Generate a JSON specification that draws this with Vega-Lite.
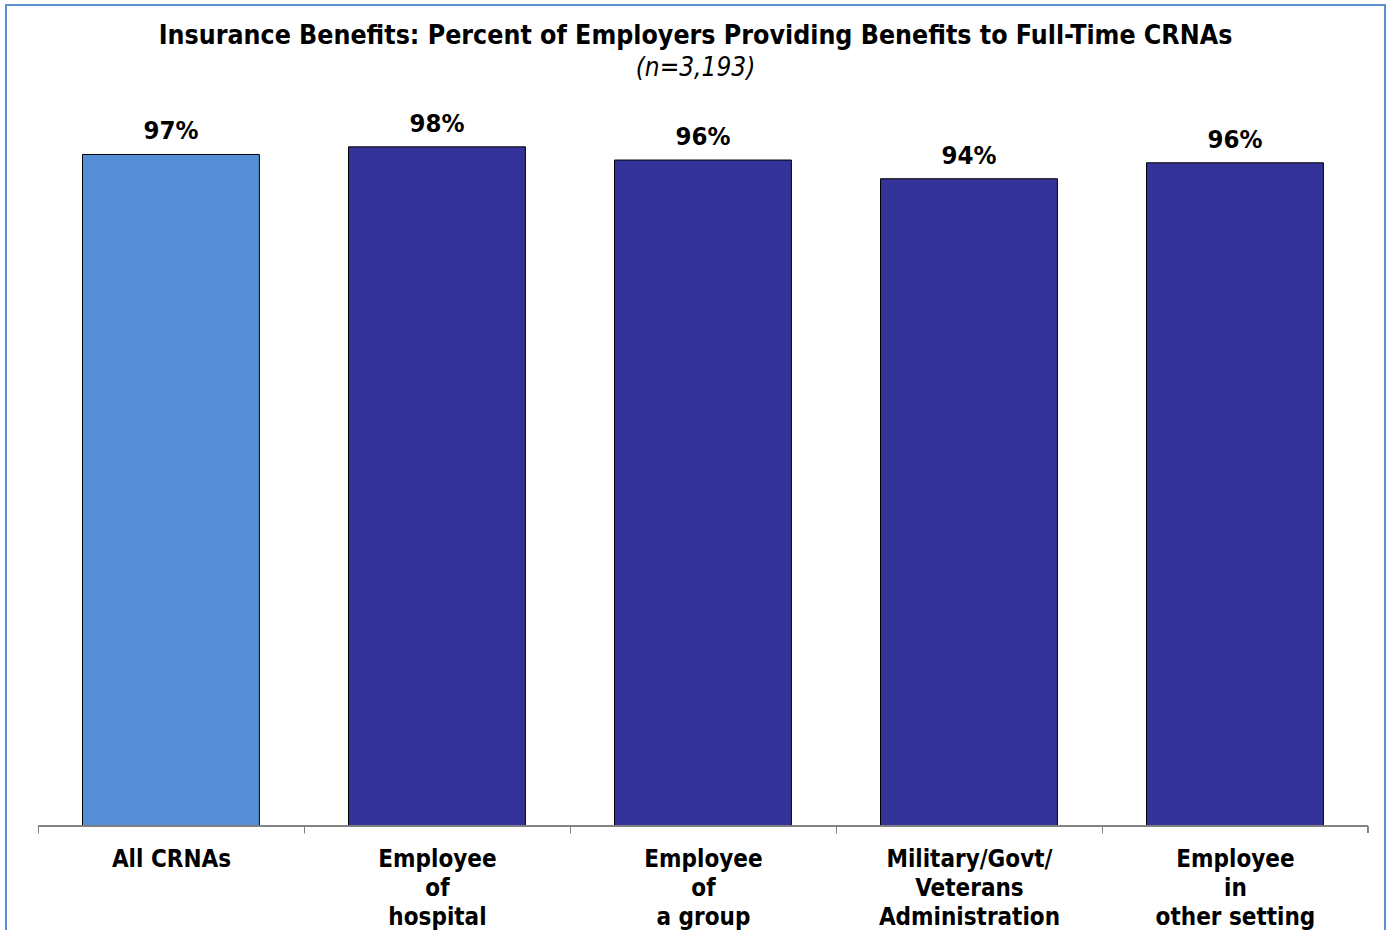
{
  "$schema": "https://vega.github.io/schema/vega-lite/v6.json",
  "width": 1379,
  "height": 935,
  "autosize": {"type": "none"},
  "padding": {"left": 6, "top": 5, "right": 3, "bottom": 0},
  "background": "white",
  "config": {
    "view": {"stroke": "#5B8FD0", "strokeWidth": 2},
    "font": "DejaVu Sans Condensed"
  },
  "title": {
    "text": "Insurance Benefits: Percent of Employers Providing Benefits to Full-Time CRNAs",
    "subtitle": "(n=3,193)",
    "anchor": "middle",
    "frame": "group",
    "baseline": "top",
    "offset": -76,
    "font": "DejaVu Sans Condensed",
    "fontSize": 26.5,
    "fontWeight": "bold",
    "color": "black",
    "subtitleFont": "DejaVu Sans Condensed",
    "subtitleFontSize": 26,
    "subtitleFontStyle": "italic",
    "subtitleColor": "black",
    "subtitlePadding": 6
  },
  "data": {
    "values": [
      {"cat": "All CRNAs", "value": 96.9, "label": "97%", "group": "all"},
      {"cat": "Employee|of|hospital", "value": 98.0, "label": "98%", "group": "sub"},
      {"cat": "Employee|of|a group", "value": 96.1, "label": "96%", "group": "sub"},
      {"cat": "Military/Govt/|Veterans|Administration", "value": 93.4, "label": "94%", "group": "sub"},
      {"cat": "Employee|in|other setting", "value": 95.7, "label": "96%", "group": "sub"}
    ]
  },
  "encoding": {
    "x": {
      "field": "cat",
      "type": "nominal",
      "sort": null,
      "scale": {"type": "band", "paddingInner": 0.335, "paddingOuter": 0.2596, "align": 0.554},
      "axis": {
        "title": null,
        "orient": "bottom",
        "offset": -114,
        "domain": false,
        "ticks": true,
        "tickSize": 7,
        "tickColor": "#808080",
        "tickWidth": 1,
        "tickOffset": -133,
        "labelOffset": 133,
        "labelAngle": 0,
        "labelFont": "DejaVu Sans Condensed",
        "labelFontSize": 24,
        "labelFontWeight": "bold",
        "labelColor": "black",
        "labelPadding": 14,
        "labelBaseline": "top",
        "labelLineHeight": 29,
        "labelLimit": 500,
        "labelExpr": "split(datum.label, '|')"
      }
    },
    "y": {
      "field": "value",
      "type": "quantitative",
      "scale": {"domain": [-16.45, 118.47], "nice": false, "zero": false},
      "axis": null
    }
  },
  "layer": [
    {
      "mark": {"type": "bar", "stroke": "black", "strokeWidth": 1},
      "encoding": {
        "y2": {"datum": 0},
        "color": {
          "field": "group",
          "type": "nominal",
          "scale": {"domain": ["all", "sub"], "range": ["#558ED5", "#333399"]},
          "legend": null
        }
      }
    },
    {
      "mark": {"type": "text", "baseline": "alphabetic", "dy": -15, "fontSize": 25.5, "fontWeight": "bold", "font": "DejaVu Sans Condensed", "color": "black"},
      "encoding": {"text": {"field": "label"}}
    },
    {
      "mark": {"type": "rule", "color": "#808080", "strokeWidth": 1},
      "encoding": {
        "x": {"datum": "All CRNAs", "type": "nominal", "bandPosition": -0.2514},
        "x2": {"datum": "Employee|in|other setting", "bandPosition": 1.2514},
        "y": {"datum": 0, "type": "quantitative"}
      }
    },
    {
      "mark": {"type": "rule", "color": "#808080", "strokeWidth": 1},
      "encoding": {
        "x": {"datum": "Employee|in|other setting", "type": "nominal", "bandPosition": 1.2514},
        "y": {"datum": 0, "type": "quantitative"},
        "y2": {"datum": -1.01}
      }
    }
  ]
}
